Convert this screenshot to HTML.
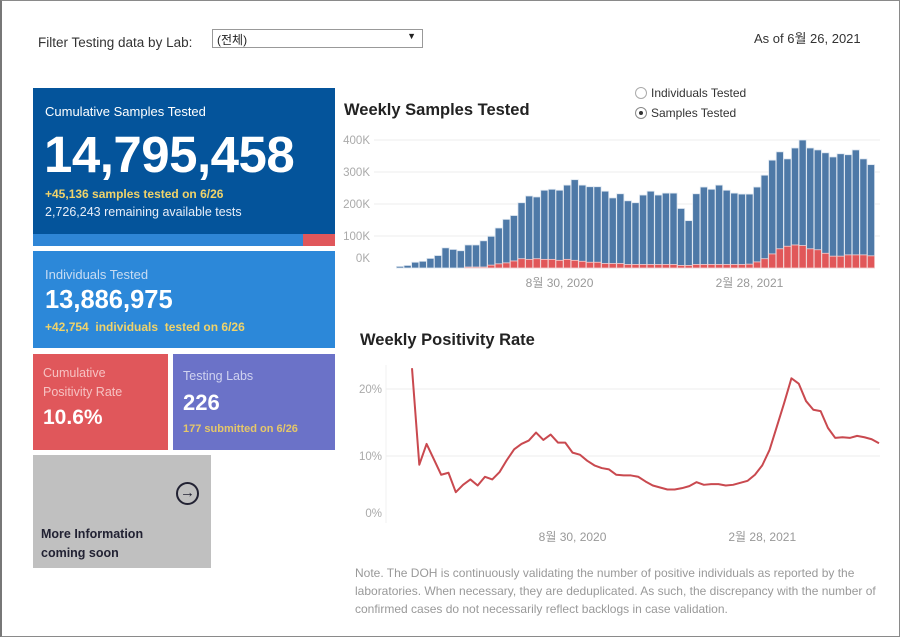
<!DOCTYPE html>
<html><head><meta charset="utf-8"><style>
*{margin:0;padding:0;box-sizing:border-box}
body{width:900px;height:637px;background:#fff;font-family:"Liberation Sans","Noto Sans CJK KR",sans-serif;position:relative;overflow:hidden}
.frame{position:absolute;left:0;top:0;width:900px;height:637px;border:1px solid #8a8a8a;border-left:2px solid #777}
.abs{position:absolute}
.box{position:absolute;color:#fff}
</style></head><body>
<div class="frame"></div>
<div class="abs" style="left:38px;top:35px;font-size:13.5px;color:#333">Filter Testing data by Lab:</div>
<div class="abs" style="left:212px;top:29px;width:211px;height:19px;border:1px solid #999;font-size:12px;color:#222;padding:1px 4px">(전체)<span style="position:absolute;right:6px;top:1px;font-size:9px">▼</span></div>
<div class="abs" style="left:754px;top:28px;font-size:13px;color:#333">As of 6월 26, 2021</div>

<div class="box" style="left:33px;top:88px;width:302px;height:158px;background:#04549b">
 <div class="abs" style="left:12px;top:16px;font-size:13px">Cumulative Samples Tested</div>
 <div class="abs" style="left:11px;top:37px;font-size:51px;font-weight:bold;letter-spacing:-0.5px">14,795,458</div>
 <div class="abs" style="left:12px;top:99px;font-size:12px;font-weight:bold;color:#f0d36a">+45,136 samples tested on 6/26</div>
 <div class="abs" style="left:12px;top:117px;font-size:12.5px;color:#e8eef8">2,726,243 remaining available tests</div>
 <div class="abs" style="left:0;top:146px;width:270px;height:12px;background:#2f86d6"></div>
 <div class="abs" style="left:270px;top:146px;width:32px;height:12px;background:#e0575b"></div>
</div>
<div class="box" style="left:33px;top:251px;width:302px;height:97px;background:#2c88d9">
 <div class="abs" style="left:12px;top:16px;font-size:13px;color:#c8dcf2">Individuals Tested</div>
 <div class="abs" style="left:12px;top:35px;font-size:25.5px;font-weight:bold">13,886,975</div>
 <div class="abs" style="left:12px;top:69px;font-size:12px;font-weight:bold;color:#f0d36a">+42,754&nbsp; individuals&nbsp; tested on 6/26</div>
</div>
<div class="box" style="left:33px;top:354px;width:135px;height:96px;background:#e0575b">
 <div class="abs" style="left:10px;top:10px;font-size:12.5px;line-height:19px;color:#f6c2c2">Cumulative<br>Positivity Rate</div>
 <div class="abs" style="left:10px;top:52px;font-size:21px;font-weight:bold">10.6%</div>
</div>
<div class="box" style="left:173px;top:354px;width:162px;height:96px;background:#6b72c8">
 <div class="abs" style="left:10px;top:15px;font-size:12.5px;color:#d0d3f0">Testing Labs</div>
 <div class="abs" style="left:10px;top:36px;font-size:22px;font-weight:bold">226</div>
 <div class="abs" style="left:10px;top:69px;font-size:11px;font-weight:bold;color:#e5c76a">177 submitted on 6/26</div>
</div>
<div class="box" style="left:33px;top:455px;width:178px;height:113px;background:#c0c0c0;color:#223">
 <div class="abs" style="left:143px;top:27px;width:23px;height:23px;border:2px solid #223;border-radius:50%;font-size:15px;line-height:18px;text-align:center;font-weight:bold">→</div>
 <div class="abs" style="left:8px;top:70px;font-size:12.5px;font-weight:bold;line-height:19px">More Information<br>coming soon</div>
</div>

<div class="abs" style="left:344px;top:101px;font-size:16.5px;font-weight:bold;color:#222">Weekly Samples Tested</div>
<div class="abs" style="left:635px;top:86px;font-size:12px;color:#333"><span style="display:inline-block;width:12px;height:12px;border:1px solid #aaa;border-radius:50%;vertical-align:-2px;margin-right:4px"></span>Individuals Tested</div>
<div class="abs" style="left:635px;top:106px;font-size:12px;color:#333"><span style="display:inline-block;width:12px;height:12px;border:1px solid #888;border-radius:50%;vertical-align:-2px;margin-right:4px;position:relative"><span style="position:absolute;left:3px;top:3px;width:4px;height:4px;border-radius:50%;background:#333"></span></span>Samples Tested</div>
<div class="abs" style="left:360px;top:331px;font-size:16.5px;font-weight:bold;color:#222">Weekly Positivity Rate</div>
<div class="abs" style="left:355px;top:564px;width:540px;font-size:12px;line-height:18px;color:#999;white-space:nowrap">Note. The DOH is continuously validating the number of positive individuals as reported by the<br>laboratories. When necessary, they are deduplicated. As such, the discrepancy with the number of<br>confirmed cases do not necessarily reflect backlogs in case validation.</div>

<svg class="abs" style="left:0;top:0" width="900" height="637">
<g id="bars"></g><g id="line"></g>
</svg>
<script>
const samples=[5,8,18,21,30,39,63,58,54,72,72,85,99,125,152,164,204,225,222,243,246,243,259,276,259,254,254,240,219,232,210,204,228,240,228,234,234,186,148,232,253,246,259,243,234,231,231,253,290,337,363,341,375,400,375,369,360,347,357,354,369,341,323];
const positives=[0,0,0,0,0,0,0,0,0,3,3,3,9,13,16,22,29,27,29,27,27,24,27,24,21,18,18,14,14,14,11,11,11,11,11,11,11,8,8,11,11,11,11,11,11,11,12,19,29,44,60,68,72,70,60,57,46,37,37,41,41,41,38];
const sampleTicks=[0,100,200,300,400];
const sampleTickLabels=["0K","100K","200K","300K","400K"];
const rate=[23.1,8.7,11.8,9.5,7.2,7.5,4.6,5.7,6.5,5.6,6.9,6.5,7.6,9.4,11.0,11.8,12.3,13.5,12.4,13.2,12.0,12.0,10.5,10.2,9.3,8.6,8.2,8.0,7.2,7.1,7.1,6.9,6.2,5.6,5.3,5.0,5.0,5.2,5.5,6.1,5.7,5.8,5.8,5.6,5.7,6.0,6.3,7.2,8.6,10.9,14.4,17.9,21.6,20.8,18.2,16.9,16.7,14.2,12.7,12.8,12.7,13.0,12.8,12.5,11.9];
const rateTicks=[0,10,20];
const rateTickLabels=["0%","10%","20%"];
const dateLabels=["8월 30, 2020","2월 28, 2021"];
const dateIdx=[21,46];

const NS="http://www.w3.org/2000/svg";
function mk(t,a,p){const e=document.createElementNS(NS,t);for(const k in a)e.setAttribute(k,a[k]);p.appendChild(e);return e;}
const bg=document.getElementById('bars'), lg=document.getElementById('line');
const by=v=>268-v*0.32;
const bx=i=>400+i*(871-400)/(samples.length-1);
sampleTicks.forEach((t,i)=>{
  if(t>0){const g=mk('line',{x1:374,x2:880,y1:by(t),y2:by(t),stroke:'#ececec'},bg);
  
  }
  const l=mk('text',{x:370,y:(t===0?262:by(t)+4),'text-anchor':'end','font-size':11.5,fill:'#aaa'},bg);
  l.textContent=sampleTickLabels[i];
  
  
});
samples.forEach((v,i)=>{
  const r=mk('rect',{x:bx(i)-3.6,y:by(v),width:7.2,height:by(0)-by(v),fill:'#4e79a7',stroke:'#dde6f0','stroke-width':0.8},bg);
  
  
  if(positives[i]>0){const p=mk('rect',{x:bx(i)-3.6,y:by(positives[i]),width:7.2,height:by(0)-by(positives[i]),fill:'#e15759',stroke:'#f3d0d0','stroke-width':0.8},bg);
  
  }
});
dateLabels.forEach((d,i)=>{
  const t=mk('text',{x:bx(dateIdx[i]),y:287,'text-anchor':'middle','font-size':12,fill:'#999'},bg);
  t.textContent=d;
  
  
});
const ly=v=>523-v*6.7;
const lx=i=>412+i*(879-412)/(rate.length-1);
rateTicks.forEach((t,i)=>{
  if(t>0){const g=mk('line',{x1:386,x2:880,y1:ly(t),y2:ly(t),stroke:'#ececec'},lg);
  
  }
  const l=mk('text',{x:382,y:(t===0?517:ly(t)+4),'text-anchor':'end','font-size':11.5,fill:'#aaa'},lg);
  l.textContent=rateTickLabels[i];
  
  
});
const ax=mk('line',{x1:386,x2:386,y1:365,y2:523,stroke:'#f0f0f0'},lg);


const pl=mk('polyline',{points:rate.map((v,i)=>lx(i)+','+ly(v)).join(' '),fill:'none',stroke:'#c9494f','stroke-width':2,'stroke-linejoin':'round'},lg);


const rIdx=[22,48];
dateLabels.forEach((d,i)=>{
  const t=mk('text',{x:lx(rIdx[i]),y:541,'text-anchor':'middle','font-size':12,fill:'#999'},lg);
  t.textContent=d;
  
  
});
</script>
</body></html>
